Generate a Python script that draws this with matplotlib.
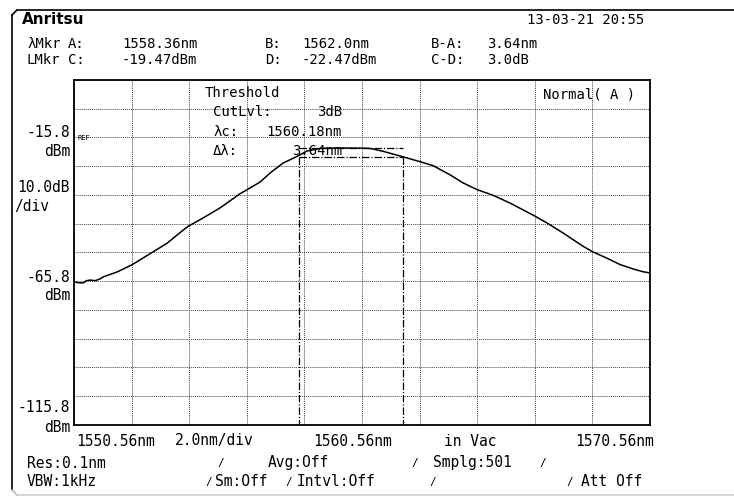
import matplotlib
matplotlib.use("Agg")
import matplotlib.pyplot as plt
from matplotlib.lines import Line2D

# trace (nm, dBm)
wavelength = [1550.56, 1550.70, 1550.87, 1551.00, 1551.12, 1551.30, 1551.46, 1551.57,
              1552.05, 1552.57, 1553.09, 1553.79, 1554.14, 1554.52, 1555.04, 1555.63,
              1556.32, 1557.02, 1557.40, 1557.82, 1558.34, 1558.65, 1559.10, 1559.80,
              1560.50, 1560.84, 1561.29, 1561.98, 1562.57, 1563.03, 1563.62, 1564.07,
              1564.55, 1565.11, 1565.70, 1566.50, 1566.98, 1567.54, 1568.23, 1568.58,
              1569.07, 1569.52, 1569.97, 1570.32, 1570.56]
power = [-65.9, -66.3, -66.4, -65.6, -65.4, -65.6, -65.0, -64.3,
         -62.6, -60.1, -56.9, -52.6, -49.7, -46.7, -43.8, -40.3,
         -35.4, -31.3, -27.9, -24.7, -22.2, -20.5, -19.6, -19.45,
         -19.5, -19.6, -20.6, -22.5, -24.2, -25.6, -28.8, -31.6,
         -33.9, -35.9, -38.6, -42.8, -45.5, -49.0, -53.6, -55.6,
         -57.8, -60.0, -61.5, -62.5, -62.9]

# markers
mkr_a, mkr_b = 1558.36, 1562.0
mkr_c, mkr_d = -19.47, -22.47

x_start, x_stop, x_div = 1550.56, 1570.56, 2.0
ref_level, db_div, n_ydiv = -15.8, 10.0, 12
y_top = ref_level + 2 * db_div
y_bot = y_top - n_ydiv * db_div

W, H = 734, 499
fig = plt.figure(figsize=(W / 100, H / 100), dpi=100)
fig.patch.set_facecolor("white")

# plot area in pixels: x 74..650, y 80..425
ax = fig.add_axes([74 / W, 1 - 425 / H, 576 / W, 345 / H])
ax.set_xlim(x_start, x_stop)
ax.set_ylim(y_bot, y_top)
ax.set_xticks([x_start + i * x_div for i in range(11)])
ax.set_yticks([y_bot + i * db_div for i in range(n_ydiv + 1)])
ax.tick_params(length=0, labelbottom=False, labelleft=False)
ax.grid(True, color="#444444", linestyle=(0, (1, 1)), linewidth=0.7)
for s in ax.spines.values():
    s.set_linewidth(1.3)
    s.set_color("black")

dashdot = (0, (6, 1.5, 1, 1.5))
ax.plot(wavelength, power, color="black", lw=1.1, zorder=3)
ax.plot([mkr_a, mkr_b], [mkr_c, mkr_c], color="black", lw=0.9, linestyle=dashdot)
ax.plot([mkr_a, mkr_b], [mkr_d, mkr_d], color="black", lw=0.9, linestyle=dashdot)
ax.plot([mkr_a, mkr_a], [mkr_d, y_bot], color="black", lw=0.9, linestyle=dashdot)
ax.plot([mkr_b, mkr_b], [mkr_d, y_bot], color="black", lw=0.9, linestyle=dashdot)

mono = "DejaVu Sans Mono"


def txt(x, y, s, ha="left", size=10, **kw):
    fig.text(x / W, 1 - y / H, s, ha=ha, va="center", family=mono, size=size, **kw)


# frame
fig.add_artist(Line2D([12 / W, 12 / W], [1 - 490 / H, 1 - 15 / H], color="black", lw=1.2))
fig.add_artist(Line2D([12 / W, 17 / W], [1 - 15 / H, 1 - 10 / H], color="black", lw=1.2))
fig.add_artist(Line2D([17 / W, 1], [1 - 10 / H, 1 - 10 / H], color="black", lw=1.2))
fig.add_artist(Line2D([12 / W, 17 / W], [1 - 490 / H, 1 - 495 / H], color="#bbbbbb", lw=1.2))
fig.add_artist(Line2D([17 / W, 1], [1 - 495 / H, 1 - 495 / H], color="#cccccc", lw=1.2))

# header
fig.text(22 / W, 1 - 20 / H, "Anritsu", ha="left", va="center", family="DejaVu Sans",
         size=11, weight="bold")
txt(527, 20, "13-03-21 20:55")
txt(27, 44, "λMkr")
txt(68, 44, "A:")
txt(122, 44, "1558.36nm")
txt(265, 44, "B:")
txt(302, 44, "1562.0nm")
txt(431, 44, "B-A:")
txt(487, 44, "3.64nm")
txt(27, 60, "LMkr")
txt(68, 60, "C:")
txt(122, 60, "-19.47dBm")
txt(265, 60, "D:")
txt(302, 60, "-22.47dBm")
txt(431, 60, "C-D:")
txt(487, 60, "3.0dB")

# left scale
txt(70, 133, "-15.8", ha="right", size=10.5)
txt(70, 151, "dBm", ha="right", size=10.5)
txt(78, 138, "REF", size=5)
txt(70, 187, "10.0dB", ha="right", size=10.5)
txt(14, 206, "/div", size=10.5)
txt(70, 277, "-65.8", ha="right", size=10.5)
txt(70, 296, "dBm", ha="right", size=10.5)
txt(70, 407, "-115.8", ha="right", size=10.5)
txt(70, 427, "dBm", ha="right", size=10.5)

# threshold panel
txt(205, 93, "Threshold")
txt(213, 112, "CutLvl:")
txt(342, 112, "3dB", ha="right")
txt(213, 132, "λc:")
txt(342, 132, "1560.18nm", ha="right")
txt(213, 151, "Δλ:")
txt(342, 151, "3.64nm", ha="right")
txt(543, 94, "Normal( A )")

# x scale
txt(76, 441, "1550.56nm", size=10.5)
txt(175, 441, "2.0nm/div", size=10.5)
txt(313, 441, "1560.56nm", size=10.5)
txt(444, 441, "in Vac", size=10.5)
txt(654, 441, "1570.56nm", ha="right", size=10.5)

# settings
txt(27, 463, "Res:0.1nm", size=10.5)
txt(217, 463, "/", size=8)
txt(268, 463, "Avg:Off", size=10.5)
txt(411, 463, "/", size=8)
txt(433, 463, "Smplg:501", size=10.5)
txt(539, 463, "/", size=8)
txt(27, 482, "VBW:1kHz", size=10.5)
txt(205, 482, "/", size=8)
txt(215, 482, "Sm:Off", size=10.5)
txt(285, 482, "/", size=8)
txt(297, 482, "Intvl:Off", size=10.5)
txt(429, 482, "/", size=8)
txt(566, 482, "/", size=8)
txt(581, 482, "Att Off", size=10.5)

fig.savefig("out.png", dpi=100)
